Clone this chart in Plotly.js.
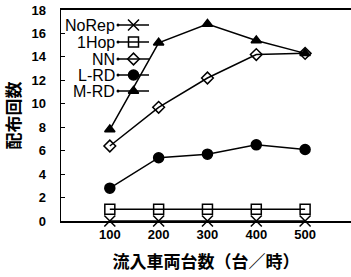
<!DOCTYPE html>
<html><head><meta charset="utf-8">
<script src="https://cdn.plot.ly/plotly-3.0.1.min.js"></script>
<style>html,body{margin:0;padding:0;background:#fff}</style>
</head><body><div id="chart" style="width:351px;height:277px"></div>
<script>
const flows = [100, 200, 300, 400, 500];
const seriesNames = ['NoRep', '1Hop', 'NN', 'L-RD', 'M-RD'];
const noRep = [0, 0, 0, 0, 0];
const oneHop = [1, 1, 1, 1, 1];
const nn = [6.4, 9.7, 12.2, 14.2, 14.3];
const lrd = [2.8, 5.4, 5.7, 6.5, 6.1];
const mrd = [7.8, 15.2, 16.8, 15.4, 14.3];
const yTicks = [0, 2, 4, 6, 8, 10, 12, 14, 16, 18];

const values = [noRep, oneHop, nn, lrd, mrd];
const symbols = ['x-thin-open', 'square-open', 'diamond-open', 'circle', 'triangle-up'];
const sizes = [11, 10, 9, 10, 9];
const FONT = 'Liberation Sans, Arial, Noto Sans CJK JP, sans-serif';
const JFONT = 'Noto Sans CJK JP, Liberation Sans, sans-serif';

const traces = values.map((v, i) => ({
  x: flows, y: v, type: 'scatter', mode: 'lines+markers', name: seriesNames[i],
  line: {color: '#000', width: 1.5},
  marker: {symbol: symbols[i], size: sizes[i], color: '#000',
           line: {color: '#000', width: 1.5}},
  cliponaxis: false, showlegend: false
}));

// legend samples on an invisible pixel-scale overlay axis
const legY = [196, 179, 162, 146, 130];
const annotations = [];
seriesNames.forEach((n, i) => {
  traces.push({x: [57, 88], y: [legY[i], legY[i]], xaxis: 'x2', yaxis: 'y2', type: 'scatter', mode: 'lines',
    line: {color: '#000', width: 1.5}, showlegend: false, hoverinfo: 'skip'});
  traces.push({x: [72.5], y: [legY[i]], xaxis: 'x2', yaxis: 'y2', type: 'scatter', mode: 'markers',
    marker: {symbol: symbols[i], size: sizes[i], color: '#000', line: {color: '#000', width: 1.5}},
    showlegend: false, hoverinfo: 'skip'});
  traces.push({x: [57], y: [legY[i]], xaxis: 'x2', yaxis: 'y2', type: 'scatter', mode: 'markers',
    marker: {symbol: 'circle', size: 3, color: '#000'}, showlegend: false, hoverinfo: 'skip'});
  annotations.push({xref: 'x2', yref: 'y2', x: 56, y: legY[i], text: n, showarrow: false,
    xanchor: 'right', yanchor: 'middle', font: {family: FONT, size: 16, color: '#000'}});
});

const layout = {
  width: 351, height: 277,
  margin: {l: 61, r: 0, t: 10, b: 56},
  paper_bgcolor: '#fff', plot_bgcolor: '#fff',
  showlegend: false,
  font: {family: FONT, size: 13, color: '#000'},
  xaxis: {range: [0, 594], tickvals: flows, ticktext: flows.map(String), ticks: '',
    showline: true, linecolor: '#000', linewidth: 2, mirror: true, showgrid: false, zeroline: false,
    tickfont: {family: FONT, size: 13, weight: 'bold'},
    title: {text: '流入車両台数（台／時）', font: {family: JFONT, size: 17, weight: 'bold'}, standoff: 16}},
  yaxis: {range: [0, 18], tickvals: yTicks, ticks: 'inside', ticklen: 4, tickwidth: 1, tickcolor: '#000',
    showline: true, linecolor: '#000', linewidth: 1.5, showgrid: false, zeroline: false,
    ticklabelstandoff: 11,
    tickfont: {family: FONT, size: 13, weight: 'bold'},
    title: {text: '配布回数', font: {family: JFONT, size: 17, weight: 'bold'}, standoff: 6}},
  xaxis2: {range: [0, 290], overlaying: 'x', visible: false, fixedrange: true},
  yaxis2: {range: [0, 211], overlaying: 'y', visible: false, fixedrange: true},
  annotations: annotations
};
Plotly.newPlot('chart', traces, layout, {staticPlot: true, displayModeBar: false});
</script></body></html>
